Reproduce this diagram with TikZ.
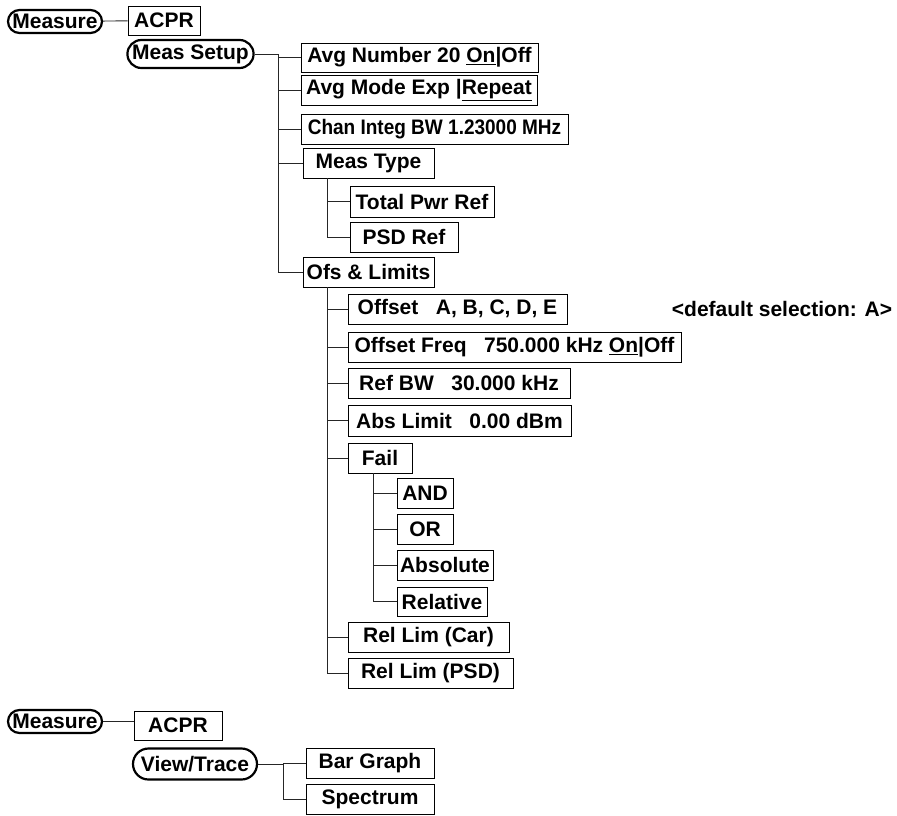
\documentclass[tikz,border=0pt]{standalone}
\usepackage{fontspec}
\usepackage{graphicx}
\setmainfont{Liberation Sans}
\usetikzlibrary{shapes.misc}
\tikzset{
  menubox/.style={draw, line width=0.9pt, rectangle, inner xsep=1pt, inner ysep=0pt, font=\fontsize{21}{24}\selectfont\bfseries},
  keyoval/.style={draw, line width=2.2pt, rounded rectangle, inner xsep=1pt, inner ysep=0pt, font=\fontsize{21}{24}\selectfont\bfseries},
  conn/.style={line width=0.9pt, draw=black!85}
}
\begin{document}
\begin{tikzpicture}[x=1pt,y=-1pt]
\useasboundingbox (0,0) rectangle (897,815);
% top tree
\node[keyoval, minimum width=96pt, minimum height=23pt] (m1) at (55,21.5) {Measure};
\node[menubox, minimum width=72pt, minimum height=29pt] (a1) at (164,20.5) {ACPR};
\node[keyoval, minimum width=125pt, minimum height=28pt] (ms) at (190.5,54) {Meas Setup};
\node[menubox, minimum width=237pt, minimum height=29pt] (avgn) at (419.5,57.5) {Avg Number 20 \underline{On}|Off};
\node[menubox, minimum width=236pt, minimum height=30pt] (avgm) at (419,90) {Avg Mode Exp |\underline{Repeat}};
\node[menubox, minimum width=267pt, minimum height=30pt] (chan) at (434.5,129) {\scalebox{0.905}[1]{Chan Integ BW 1.23000 MHz}};
\node[menubox, minimum width=131pt, minimum height=30pt] (mtype) at (368.5,163) {Meas Type};
\node[menubox, minimum width=144pt, minimum height=31pt] (tpr) at (422,201.5) {Total Pwr Ref};
\node[menubox, minimum width=108pt, minimum height=30pt] (psd) at (404,237) {PSD Ref};
\node[menubox, minimum width=131pt, minimum height=30pt] (ofs) at (368.5,272) {Ofs \& Limits};
\node[menubox, minimum width=219pt, minimum height=30pt] (offset) at (457.5,309) {Offset\ \ \ A, B, C, D, E};
\node[font=\fontsize{21}{24}\selectfont\bfseries, inner sep=0pt] (dflt) at (782,309) {<default selection: A>};
\node[menubox, minimum width=333pt, minimum height=30pt] (ofreq) at (514.5,347) {Offset Freq\ \ \ 750.000 kHz \underline{On}|Off};
\node[menubox, minimum width=222pt, minimum height=30pt] (refbw) at (459,383) {Ref BW\ \ \ 30.000 kHz};
\node[menubox, minimum width=223pt, minimum height=31pt] (abs) at (459.5,420.5) {Abs Limit\ \ \ 0.00 dBm};
\node[menubox, minimum width=64pt, minimum height=30pt] (fail) at (380,458) {Fail};
\node[menubox, minimum width=56pt, minimum height=30pt] (and) at (425,493) {AND};
\node[menubox, minimum width=56pt, minimum height=30pt] (or) at (425,529) {OR};
\node[menubox, minimum width=96pt, minimum height=30pt] (absol) at (445,565) {Absolute};
\node[menubox, minimum width=90pt, minimum height=29pt] (rel) at (442,601.5) {Relative};
\node[menubox, minimum width=161pt, minimum height=30pt] (rlc) at (428.5,637) {Rel Lim (Car)};
\node[menubox, minimum width=165pt, minimum height=30pt] (rlp) at (430.5,673) {Rel Lim (PSD)};
% top connectors
\draw[conn] (m1) -- (a1);
\coordinate (b1) at (278,54);
\draw[conn] (ms.east) -- (b1) |- (ofs.west);
\foreach \n in {avgn,avgm,chan,mtype} \draw[conn] (b1 |- \n.west) -- (\n.west);
\coordinate (b2) at (327,178);
\draw[conn] (b2) |- (psd.west);
\draw[conn] (b2 |- tpr.west) -- (tpr.west);
\coordinate (b3) at (327,287);
\draw[conn] (b3) |- (rlp.west);
\foreach \n in {offset,ofreq,refbw,abs,fail,rlc} \draw[conn] (b3 |- \n.west) -- (\n.west);
\coordinate (b4) at (373,473);
\draw[conn] (b4) |- (rel.west);
\foreach \n in {and,or,absol} \draw[conn] (b4 |- \n.west) -- (\n.west);
% bottom tree
\node[keyoval, minimum width=96pt, minimum height=23pt] (m2) at (55,721.5) {Measure};
\node[menubox, minimum width=88pt, minimum height=29pt] (a2) at (178,725.5) {ACPR};
\node[keyoval, minimum width=126pt, minimum height=31pt] (vt) at (195,764) {View/Trace};
\node[menubox, minimum width=128pt, minimum height=30pt] (bg) at (370,763) {Bar Graph};
\node[menubox, minimum width=128pt, minimum height=30pt] (sp) at (370,799) {Spectrum};
\draw[conn] (m2.east) -- (m2.east -| a2.west);
\coordinate (b5) at (283,764);
\draw[conn] (vt.east) -- (b5) |- (sp.west);
\draw[conn] (b5 |- bg.west) -- (bg.west);
\end{tikzpicture}
\end{document}
